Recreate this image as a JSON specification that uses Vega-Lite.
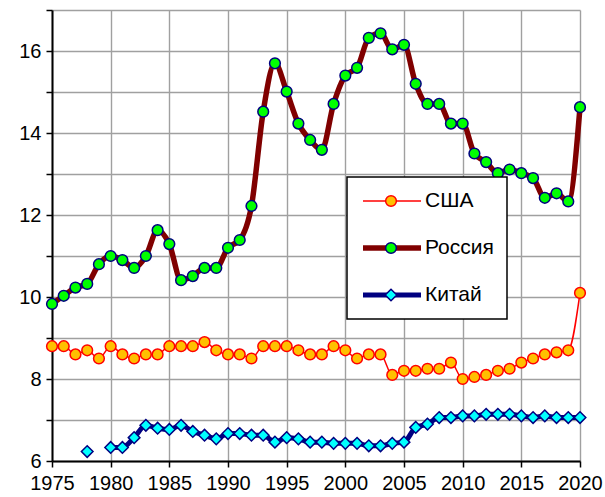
{
  "$schema": "https://vega.github.io/schema/vega-lite/v6.json",
  "width": 528,
  "height": 451,
  "autosize": "none",
  "padding": {"left": 52, "top": 10, "right": 25, "bottom": 36},
  "background": "white",
  "config": {
    "font": "Liberation Sans",
    "view": {"stroke": null},
    "axis": {
      "labelFont": "Liberation Sans",
      "labelFontSize": 20,
      "labelColor": "black",
      "gridColor": "#a0a0a0",
      "gridWidth": 1.4,
      "gridOpacity": 1,
      "domainColor": "black",
      "domainWidth": 2,
      "tickColor": "black",
      "tickWidth": 1.5,
      "tickSize": 6,
      "title": null
    },
    "legend": {
      "title": null,
      "orient": "none",
      "clipHeight": 22,
      "labelFont": "Liberation Sans",
      "labelFontSize": 21,
      "labelColor": "black"
    }
  },
  "datasets": {
    "rows": [
      {"year": 1975, "country": "Россия", "v": 9.83},
      {"year": 1976, "country": "Россия", "v": 10.03},
      {"year": 1977, "country": "Россия", "v": 10.23},
      {"year": 1978, "country": "Россия", "v": 10.32},
      {"year": 1979, "country": "Россия", "v": 10.8},
      {"year": 1980, "country": "Россия", "v": 11.0},
      {"year": 1981, "country": "Россия", "v": 10.9},
      {"year": 1982, "country": "Россия", "v": 10.71},
      {"year": 1983, "country": "Россия", "v": 11.0},
      {"year": 1984, "country": "Россия", "v": 11.63},
      {"year": 1985, "country": "Россия", "v": 11.29},
      {"year": 1986, "country": "Россия", "v": 10.41},
      {"year": 1987, "country": "Россия", "v": 10.51},
      {"year": 1988, "country": "Россия", "v": 10.71},
      {"year": 1989, "country": "Россия", "v": 10.71},
      {"year": 1990, "country": "Россия", "v": 11.2},
      {"year": 1991, "country": "Россия", "v": 11.39},
      {"year": 1992, "country": "Россия", "v": 12.22},
      {"year": 1993, "country": "Россия", "v": 14.52},
      {"year": 1994, "country": "Россия", "v": 15.7},
      {"year": 1995, "country": "Россия", "v": 15.01},
      {"year": 1996, "country": "Россия", "v": 14.23},
      {"year": 1997, "country": "Россия", "v": 13.83},
      {"year": 1998, "country": "Россия", "v": 13.59},
      {"year": 1999, "country": "Россия", "v": 14.71},
      {"year": 2000, "country": "Россия", "v": 15.4},
      {"year": 2001, "country": "Россия", "v": 15.59},
      {"year": 2002, "country": "Россия", "v": 16.32},
      {"year": 2003, "country": "Россия", "v": 16.43},
      {"year": 2004, "country": "Россия", "v": 16.04},
      {"year": 2005, "country": "Россия", "v": 16.15},
      {"year": 2006, "country": "Россия", "v": 15.2},
      {"year": 2007, "country": "Россия", "v": 14.71},
      {"year": 2008, "country": "Россия", "v": 14.71},
      {"year": 2009, "country": "Россия", "v": 14.23},
      {"year": 2010, "country": "Россия", "v": 14.23},
      {"year": 2011, "country": "Россия", "v": 13.5},
      {"year": 2012, "country": "Россия", "v": 13.29},
      {"year": 2013, "country": "Россия", "v": 13.02},
      {"year": 2014, "country": "Россия", "v": 13.11},
      {"year": 2015, "country": "Россия", "v": 13.02},
      {"year": 2016, "country": "Россия", "v": 12.9},
      {"year": 2017, "country": "Россия", "v": 12.42},
      {"year": 2018, "country": "Россия", "v": 12.53},
      {"year": 2019, "country": "Россия", "v": 12.33},
      {"year": 2020, "country": "Россия", "v": 14.63},
      {"year": 1975, "country": "США", "v": 8.8},
      {"year": 1976, "country": "США", "v": 8.8},
      {"year": 1977, "country": "США", "v": 8.6},
      {"year": 1978, "country": "США", "v": 8.7},
      {"year": 1979, "country": "США", "v": 8.5},
      {"year": 1980, "country": "США", "v": 8.8},
      {"year": 1981, "country": "США", "v": 8.6},
      {"year": 1982, "country": "США", "v": 8.5},
      {"year": 1983, "country": "США", "v": 8.6},
      {"year": 1984, "country": "США", "v": 8.6},
      {"year": 1985, "country": "США", "v": 8.8},
      {"year": 1986, "country": "США", "v": 8.8},
      {"year": 1987, "country": "США", "v": 8.8},
      {"year": 1988, "country": "США", "v": 8.9},
      {"year": 1989, "country": "США", "v": 8.7},
      {"year": 1990, "country": "США", "v": 8.6},
      {"year": 1991, "country": "США", "v": 8.6},
      {"year": 1992, "country": "США", "v": 8.5},
      {"year": 1993, "country": "США", "v": 8.8},
      {"year": 1994, "country": "США", "v": 8.8},
      {"year": 1995, "country": "США", "v": 8.8},
      {"year": 1996, "country": "США", "v": 8.7},
      {"year": 1997, "country": "США", "v": 8.6},
      {"year": 1998, "country": "США", "v": 8.6},
      {"year": 1999, "country": "США", "v": 8.8},
      {"year": 2000, "country": "США", "v": 8.7},
      {"year": 2001, "country": "США", "v": 8.5},
      {"year": 2002, "country": "США", "v": 8.6},
      {"year": 2003, "country": "США", "v": 8.6},
      {"year": 2004, "country": "США", "v": 8.1},
      {"year": 2005, "country": "США", "v": 8.2},
      {"year": 2006, "country": "США", "v": 8.2},
      {"year": 2007, "country": "США", "v": 8.25},
      {"year": 2008, "country": "США", "v": 8.25},
      {"year": 2009, "country": "США", "v": 8.4},
      {"year": 2010, "country": "США", "v": 8.0},
      {"year": 2011, "country": "США", "v": 8.05},
      {"year": 2012, "country": "США", "v": 8.1},
      {"year": 2013, "country": "США", "v": 8.2},
      {"year": 2014, "country": "США", "v": 8.25},
      {"year": 2015, "country": "США", "v": 8.4},
      {"year": 2016, "country": "США", "v": 8.5},
      {"year": 2017, "country": "США", "v": 8.6},
      {"year": 2018, "country": "США", "v": 8.65},
      {"year": 2019, "country": "США", "v": 8.7},
      {"year": 2020, "country": "США", "v": 10.1},
      {"year": 1978, "country": "Китай", "v": 6.23},
      {"year": 1979, "country": "Китай", "v": null},
      {"year": 1980, "country": "Китай", "v": 6.33},
      {"year": 1981, "country": "Китай", "v": 6.33},
      {"year": 1982, "country": "Китай", "v": 6.57},
      {"year": 1983, "country": "Китай", "v": 6.87},
      {"year": 1984, "country": "Китай", "v": 6.8},
      {"year": 1985, "country": "Китай", "v": 6.77},
      {"year": 1986, "country": "Китай", "v": 6.87},
      {"year": 1987, "country": "Китай", "v": 6.72},
      {"year": 1988, "country": "Китай", "v": 6.63},
      {"year": 1989, "country": "Китай", "v": 6.54},
      {"year": 1990, "country": "Китай", "v": 6.67},
      {"year": 1991, "country": "Китай", "v": 6.67},
      {"year": 1992, "country": "Китай", "v": 6.63},
      {"year": 1993, "country": "Китай", "v": 6.63},
      {"year": 1994, "country": "Китай", "v": 6.46},
      {"year": 1995, "country": "Китай", "v": 6.57},
      {"year": 1996, "country": "Китай", "v": 6.54},
      {"year": 1997, "country": "Китай", "v": 6.46},
      {"year": 1998, "country": "Китай", "v": 6.46},
      {"year": 1999, "country": "Китай", "v": 6.43},
      {"year": 2000, "country": "Китай", "v": 6.43},
      {"year": 2001, "country": "Китай", "v": 6.43},
      {"year": 2002, "country": "Китай", "v": 6.37},
      {"year": 2003, "country": "Китай", "v": 6.37},
      {"year": 2004, "country": "Китай", "v": 6.43},
      {"year": 2005, "country": "Китай", "v": 6.46},
      {"year": 2006, "country": "Китай", "v": 6.82},
      {"year": 2007, "country": "Китай", "v": 6.9},
      {"year": 2008, "country": "Китай", "v": 7.06},
      {"year": 2009, "country": "Китай", "v": 7.06},
      {"year": 2010, "country": "Китай", "v": 7.1},
      {"year": 2011, "country": "Китай", "v": 7.1},
      {"year": 2012, "country": "Китай", "v": 7.14},
      {"year": 2013, "country": "Китай", "v": 7.14},
      {"year": 2014, "country": "Китай", "v": 7.14},
      {"year": 2015, "country": "Китай", "v": 7.1},
      {"year": 2016, "country": "Китай", "v": 7.06},
      {"year": 2017, "country": "Китай", "v": 7.1},
      {"year": 2018, "country": "Китай", "v": 7.06},
      {"year": 2019, "country": "Китай", "v": 7.06},
      {"year": 2020, "country": "Китай", "v": 7.06}
    ]
  },
  "data": {"name": "rows"},
  "encoding": {
    "x": {
      "field": "year",
      "type": "quantitative",
      "scale": {"domain": [1975, 2020], "nice": false, "zero": false},
      "axis": {
        "values": [1975, 1980, 1985, 1990, 1995, 2000, 2005, 2010, 2015, 2020],
        "format": "d",
        "labelPadding": 6,
        "labelFlush": false,
        "labelOverlap": false
      }
    },
    "y": {
      "field": "v",
      "type": "quantitative",
      "scale": {"domain": [6, 17], "nice": false, "zero": false},
      "axis": {
        "values": [6, 7, 8, 9, 10, 11, 12, 13, 14, 15, 16, 17],
        "labelExpr": "datum.value % 2 === 0 && datum.value < 17 ? datum.label : ''",
        "labelPadding": 5,
        "labelOverlap": false
      }
    }
  },
  "layer": [
    {
      "mark": {"type": "line", "interpolate": "monotone", "invalid": "break-paths-show-domains"},
      "encoding": {
        "color": {
          "field": "country",
          "type": "nominal",
          "scale": {"domain": ["США", "Россия", "Китай"], "range": ["#ff0000", "#800000", "#000080"]},
          "legend": {
            "legendX": 295,
            "legendY": 167,
            "symbolType": "stroke",
            "symbolSize": 3364,
            "symbolStrokeWidth": 6,
            "rowPadding": 25,
            "padding": 13,
            "labelOffset": 1,
            "fillColor": "white",
            "strokeColor": "black",
            "encode": {
              "legend": {"update": {"strokeWidth": {"value": 1.5}}},
              "symbols": {"update": {"strokeWidth": {"signal": "datum.value === 'США' ? 1.5 : 6"}}}
            }
          }
        },
        "strokeWidth": {
          "field": "country",
          "type": "nominal",
          "scale": {"type": "ordinal", "domain": ["США", "Россия", "Китай"], "range": [1.5, 5.5, 5]},
          "legend": null
        }
      }
    },
    {
      "transform": [{"filter": "datum.country === 'США'"}],
      "mark": {"type": "point", "filled": true, "opacity": 1, "shape": "circle", "size": 115, "stroke": "#ff0000", "strokeWidth": 1.5},
      "encoding": {
        "fill": {
          "field": "country",
          "type": "nominal",
          "scale": {"range": ["#ffc000"]},
          "legend": {
            "legendX": 328.5,
            "legendY": 180,
            "padding": 0,
            "symbolType": "circle",
            "symbolSize": 115,
            "symbolStrokeColor": "#ff0000",
            "symbolStrokeWidth": 1.5,
            "symbolOpacity": 1,
            "labelExpr": "''"
          }
        }
      }
    },
    {
      "transform": [{"filter": "datum.country === 'Россия'"}],
      "mark": {"type": "point", "filled": true, "opacity": 1, "shape": "circle", "size": 115, "stroke": "#000080", "strokeWidth": 1.5},
      "encoding": {
        "fill": {
          "field": "country",
          "type": "nominal",
          "scale": {"range": ["#00ff00"]},
          "legend": {
            "legendX": 328.5,
            "legendY": 227,
            "padding": 0,
            "symbolType": "circle",
            "symbolSize": 115,
            "symbolStrokeColor": "#000080",
            "symbolStrokeWidth": 1.5,
            "symbolOpacity": 1,
            "labelExpr": "''"
          }
        }
      }
    },
    {
      "transform": [{"filter": "datum.country === 'Китай'"}],
      "mark": {"type": "point", "filled": true, "opacity": 1, "shape": "diamond", "size": 135, "stroke": "#000080", "strokeWidth": 1.5},
      "encoding": {
        "fill": {
          "field": "country",
          "type": "nominal",
          "scale": {"range": ["#00ffff"]},
          "legend": {
            "legendX": 328.5,
            "legendY": 274,
            "padding": 0,
            "symbolType": "diamond",
            "symbolSize": 135,
            "symbolStrokeColor": "#000080",
            "symbolStrokeWidth": 1.5,
            "symbolOpacity": 1,
            "labelExpr": "''"
          }
        }
      }
    }
  ],
  "resolve": {
    "scale": {"fill": "independent"},
    "legend": {"fill": "independent"}
  }
}
